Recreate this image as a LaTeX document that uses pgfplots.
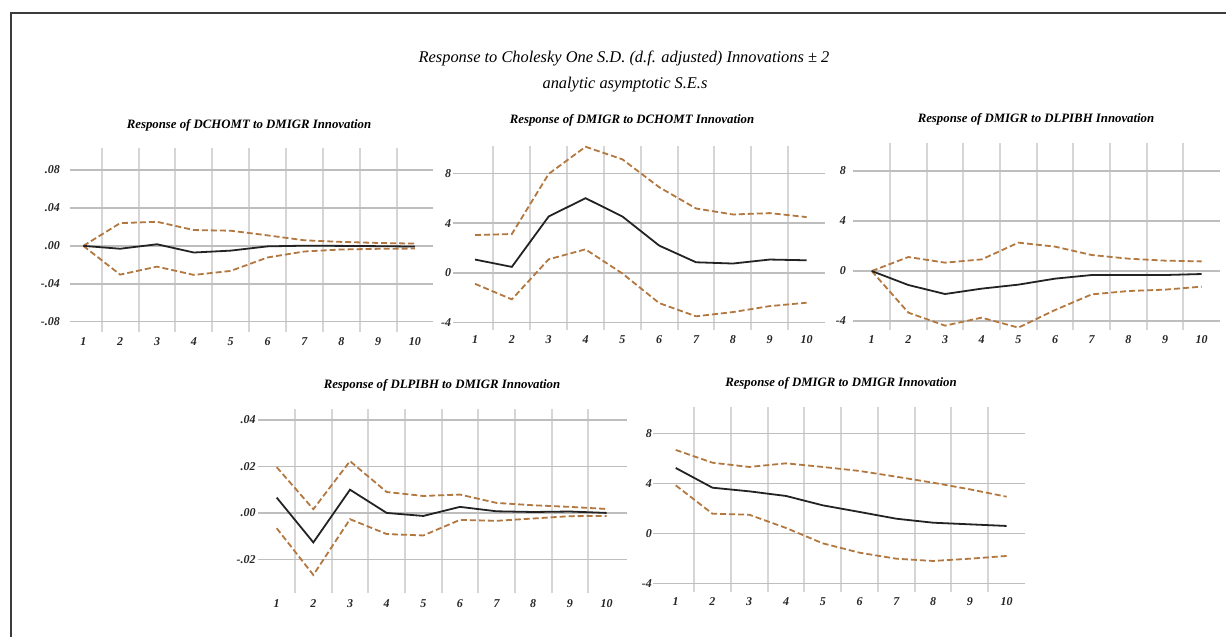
\documentclass[border=0pt]{standalone}
\usepackage{pgfplots}
\pgfplotsset{compat=1.18}
\usepackage{fontspec}
\setmainfont{Liberation Serif}

\definecolor{band}{RGB}{178,120,64}
\definecolor{resp}{RGB}{35,35,35}
\definecolor{gridv}{RGB}{214,214,214}
\definecolor{gridh}{RGB}{190,190,190}
\definecolor{frame}{RGB}{60,60,60}

\newcommand{\tickfont}{\bfseries\itshape\fontsize{12}{12}\selectfont}
\newcommand{\panelfont}{\bfseries\itshape\fontsize{12.8}{13}\selectfont}

\pgfplotsset{
  irf/.style={
    scale only axis,
    clip=false,
    scaled y ticks=false,
    axis line style={draw=none},
    major tick length=0pt, minor tick length=0pt,
    xtick={1,...,10},
    xticklabels={1,2,3,4,5,6,7,8,9,10},
    minor xtick={1.5,2.5,3.5,4.5,5.5,6.5,7.5,8.5,9.5},
    xminorgrids=true,
    ymajorgrids=true,
    minor x grid style={gridv, line width=2pt},
    major y grid style={gridh, line width=1.5pt},
    xticklabel style={font=\tickfont, text=black!85, anchor=center, inner sep=0pt, yshift=-10pt},
    yticklabel style={font=\tickfont, text=black!85, anchor=east, inner sep=0pt},
    /pgf/number format/assume math mode=true,
  },
  rsp/.style={resp, line width=1.8pt},
  bnd/.style={band, line width=1.8pt, dash pattern=on 6pt off 3pt},
}

\begin{document}
\begin{tikzpicture}
\path[use as bounding box] (0pt,0pt) rectangle (1226pt,-637pt);
\draw[frame, line width=1.2pt] (11pt,-637pt) -- (11pt,-13pt) -- (1226pt,-13pt);

\node[font=\itshape\fontsize{16.4}{16}\selectfont] at (624pt,-58pt) {Response to Cholesky One S.D. (d.f. adjusted) Innovations ± 2};
\node[font=\itshape\fontsize{16.4}{16}\selectfont] at (625pt,-85pt) {analytic asymptotic S.E.s};

\node[font=\panelfont] at (249pt,-125pt) {Response of DCHOMT to DMIGR Innovation};
\node[font=\panelfont] at (632pt,-120pt) {Response of DMIGR to DCHOMT Innovation};
\node[font=\panelfont] at (1036pt,-119pt) {Response of DMIGR to DLPIBH Innovation};
\node[font=\panelfont] at (442pt,-385pt) {Response of DLPIBH to DMIGR Innovation};
\node[font=\panelfont] at (841pt,-383pt) {Response of DMIGR to DMIGR Innovation};

% panel 1
\begin{axis}[irf, at={(70pt,-331.7pt)}, anchor=south west,
  width=363pt, height=183.4pt,
  xmin=0.639, xmax=10.49, ymin=-0.0905, ymax=0.1029,
  ytick={-0.08,-0.04,0,0.04,0.08},
  yticklabels={-.08,-.04,.00,.04,.08},
  yticklabel style={xshift=-10pt}]
\addplot[bnd] coordinates {(1,0)(2,0.024)(3,0.0254)(4,0.0167)(5,0.016)(6,0.0111)(7,0.0059)(8,0.0042)(9,0.0031)(10,0.0024)};
\addplot[bnd] coordinates {(1,0)(2,-0.0303)(3,-0.0219)(4,-0.0306)(5,-0.0264)(6,-0.0122)(7,-0.0059)(8,-0.0038)(9,-0.0031)(10,-0.0028)};
\addplot[rsp] coordinates {(1,0)(2,-0.003)(3,0.0017)(4,-0.007)(5,-0.005)(6,-0.0005)(7,0.0002)(8,0.0)(9,-0.0003)(10,-0.0007)};
\end{axis}

% panel 2
\begin{axis}[irf, at={(453.3pt,-330pt)}, anchor=south west,
  width=371.7pt, height=184pt,
  xmin=0.411, xmax=10.5, ymin=-4.59, ymax=10.19,
  ytick={-4,0,4,8},
  yticklabels={-4,0,4,8},
  yticklabel style={xshift=-2pt}]
\addplot[bnd] coordinates {(1,3.04)(2,3.12)(3,7.95)(4,10.13)(5,9.12)(6,6.88)(7,5.17)(8,4.69)(9,4.8)(10,4.48)};
\addplot[bnd] coordinates {(1,-0.88)(2,-2.13)(3,1.09)(4,1.89)(5,-0.05)(6,-2.43)(7,-3.49)(8,-3.15)(9,-2.67)(10,-2.4)};
\addplot[rsp] coordinates {(1,1.07)(2,0.48)(3,4.53)(4,6.0)(5,4.53)(6,2.19)(7,0.85)(8,0.75)(9,1.07)(10,1.01)};
\end{axis}

% panel 3
\begin{axis}[irf, at={(853pt,-330pt)}, anchor=south west,
  width=367pt, height=186.7pt,
  xmin=0.49, xmax=10.5, ymin=-4.72, ymax=10.22,
  ytick={-4,0,4,8},
  yticklabels={-4,0,4,8},
  yticklabel style={xshift=-7pt}]
\addplot[bnd] coordinates {(1,0)(2,1.12)(3,0.67)(4,0.93)(5,2.27)(6,1.95)(7,1.28)(8,0.99)(9,0.83)(10,0.77)};
\addplot[bnd] coordinates {(1,0)(2,-3.33)(3,-4.37)(4,-3.73)(5,-4.53)(6,-3.12)(7,-1.87)(8,-1.6)(9,-1.49)(10,-1.25)};
\addplot[rsp] coordinates {(1,0)(2,-1.12)(3,-1.84)(4,-1.41)(5,-1.09)(6,-0.61)(7,-0.32)(8,-0.32)(9,-0.32)(10,-0.24)};
\end{axis}

% panel 4
\begin{axis}[irf, at={(258.3pt,-593.3pt)}, anchor=south west,
  width=368.4pt, height=184pt,
  xmin=0.498, xmax=10.55, ymin=-0.0346, ymax=0.0446,
  ytick={-0.02,0,0.02,0.04},
  yticklabels={-.02,.00,.02,.04},
  yticklabel style={xshift=-2.6pt}]
\addplot[bnd] coordinates {(1,0.0197)(2,0.0016)(3,0.0223)(4,0.009)(5,0.0073)(6,0.0079)(7,0.0043)(8,0.0033)(9,0.0026)(10,0.0017)};
\addplot[bnd] coordinates {(1,-0.0066)(2,-0.0267)(3,-0.0027)(4,-0.0091)(5,-0.0097)(6,-0.003)(7,-0.0034)(8,-0.0024)(9,-0.0014)(10,-0.0013)};
\addplot[rsp] coordinates {(1,0.0066)(2,-0.0127)(3,0.01)(4,0)(5,-0.0013)(6,0.0026)(7,0.0007)(8,0.0004)(9,0.0006)(10,0)};
\end{axis}

% panel 5
\begin{axis}[irf, at={(653.3pt,-591.7pt)}, anchor=south west,
  width=371.7pt, height=185pt,
  xmin=0.391, xmax=10.5, ymin=-4.67, ymax=10.13,
  ytick={-4,0,4,8},
  yticklabels={-4,0,4,8},
  yticklabel style={xshift=-1.3pt}]
\addplot[bnd] coordinates {(1,6.67)(2,5.65)(3,5.31)(4,5.6)(5,5.31)(6,4.99)(7,4.53)(8,4.05)(9,3.52)(10,2.93)};
\addplot[bnd] coordinates {(1,3.84)(2,1.57)(3,1.49)(4,0.43)(5,-0.8)(6,-1.55)(7,-2.03)(8,-2.21)(9,-2.03)(10,-1.81)};
\addplot[rsp] coordinates {(1,5.23)(2,3.65)(3,3.36)(4,2.99)(5,2.24)(6,1.71)(7,1.17)(8,0.85)(9,0.72)(10,0.59)};
\end{axis}
\end{tikzpicture}
\end{document}
